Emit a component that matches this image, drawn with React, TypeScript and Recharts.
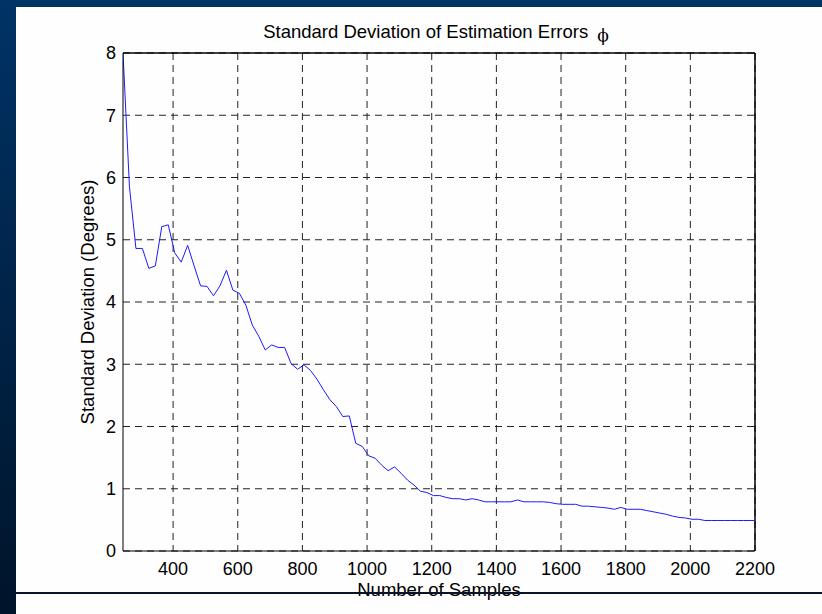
import React from 'react';
import { LineChart, Line, XAxis, YAxis, CartesianGrid, ReferenceLine, Customized } from 'recharts';

const samples = [
  245, 265, 285, 305, 325, 345, 365, 385, 405, 425, 445, 465, 485, 505, 525, 545, 565, 585, 605, 625,
  645, 665, 685, 705, 725, 745, 765, 785, 805, 825, 845, 865, 885, 905, 925, 945, 965, 985, 1005, 1025,
  1045, 1065, 1085, 1105, 1125, 1145, 1165, 1185, 1205, 1225, 1245, 1265, 1285, 1305, 1325, 1345, 1365, 1385, 1405, 1425,
  1445, 1465, 1485, 1505, 1525, 1545, 1565, 1585, 1605, 1625, 1645, 1665, 1685, 1705, 1725, 1745, 1765, 1785, 1805, 1825,
  1845, 1865, 1885, 1905, 1925, 1945, 1965, 1985, 2005, 2025, 2045, 2065, 2085, 2105, 2125, 2145, 2165, 2185, 2200,
];

const stdDevDegrees = [
  8.0, 5.85, 4.86, 4.86, 4.54, 4.58, 5.21, 5.24, 4.79, 4.64, 4.91, 4.58, 4.26, 4.25, 4.1, 4.26, 4.51, 4.19, 4.14, 3.95,
  3.63, 3.45, 3.23, 3.31, 3.27, 3.27, 3.01, 2.92, 2.99, 2.9, 2.76, 2.59, 2.43, 2.32, 2.16, 2.17, 1.73, 1.68, 1.53, 1.49,
  1.38, 1.29, 1.35, 1.25, 1.14, 1.06, 0.96, 0.94, 0.89, 0.89, 0.86, 0.84, 0.84, 0.82, 0.84, 0.82, 0.79, 0.79, 0.79, 0.79,
  0.79, 0.82, 0.79, 0.79, 0.79, 0.79, 0.78, 0.76, 0.75, 0.75, 0.75, 0.72, 0.72, 0.71, 0.7, 0.69, 0.67, 0.7, 0.67, 0.67,
  0.67, 0.65, 0.63, 0.61, 0.59, 0.56, 0.54, 0.53, 0.51, 0.51, 0.49, 0.49, 0.49, 0.49, 0.49, 0.49, 0.49, 0.49, 0.49,
];

const xTicks = [400, 600, 800, 1000, 1200, 1400, 1600, 1800, 2000, 2200];
const yTicks = [0, 1, 2, 3, 4, 5, 6, 7, 8];

const titleText = 'Standard Deviation of Estimation Errors';
const titleSymbol = 'ϕ';
const xLabel = 'Number of Samples';
const yLabel = 'Standard Deviation (Degrees)';

const data = samples.map((s, i) => ({ s, v: stdDevDegrees[i] }));

const FONT = '"Liberation Sans", Arial, Helvetica, sans-serif';

const Title = () => (
  <text x={436} y={38} textAnchor="middle" fontFamily={FONT} fontSize={18.5} fill="#000">
    <tspan>{titleText}</tspan>
    <tspan dx={9} dy={3} fontFamily='"DejaVu Serif", serif' fontSize={17}>{titleSymbol}</tspan>
  </text>
);

export default function App() {
  return (
    <div style={{ position: 'fixed', left: 0, top: 0, width: '100vw', height: 614, overflow: 'hidden', background: 'linear-gradient(#003366, #00142a)' }}>
      <div style={{ position: 'absolute', left: 16, top: 7, right: -20, height: 607, background: '#fefefe' }} />
      <div style={{ position: 'absolute', left: 0, top: 0 }}>
        <LineChart width={822} height={614} data={data} margin={{ top: 53, right: 67, left: 0, bottom: 0 }}>
          <CartesianGrid stroke="#222" strokeDasharray="7 5" horizontalValues={yTicks} verticalValues={xTicks} />
          <XAxis
            dataKey="s"
            type="number"
            domain={[245, 2200]}
            ticks={xTicks}
            allowDataOverflow
            height={63}
            stroke="#000"
            tickLine={false}
            tickSize={5}
            tickMargin={6}
            tick={{ fill: '#000', fontSize: 18, fontFamily: FONT }}
            label={{ value: xLabel, position: 'center', dy: 7, fill: '#000', fontSize: 18.5, fontFamily: FONT }}
          />
          <YAxis
            type="number"
            domain={[0, 8]}
            ticks={yTicks}
            width={123}
            stroke="#000"
            tickLine={false}
            tickSize={5}
            tickMargin={2}
            tick={{ fill: '#000', fontSize: 18, fontFamily: FONT }}
            label={{ value: yLabel, angle: -90, position: 'center', dx: 26, fill: '#000', fontSize: 18.5, fontFamily: FONT }}
          />
          <ReferenceLine y={8} stroke="#000" strokeWidth={1.5} />
          <ReferenceLine x={2200} stroke="#000" strokeWidth={1.5} />
          <Line type="linear" dataKey="v" stroke="#1a1aff" strokeWidth={1} dot={false} isAnimationActive={false} />
          <Customized component={Title} />
        </LineChart>
      </div>
      <div style={{ position: 'absolute', left: 16, top: 592, right: -20, height: 2, background: '#0a1426', pointerEvents: 'none' }} />
    </div>
  );
}
